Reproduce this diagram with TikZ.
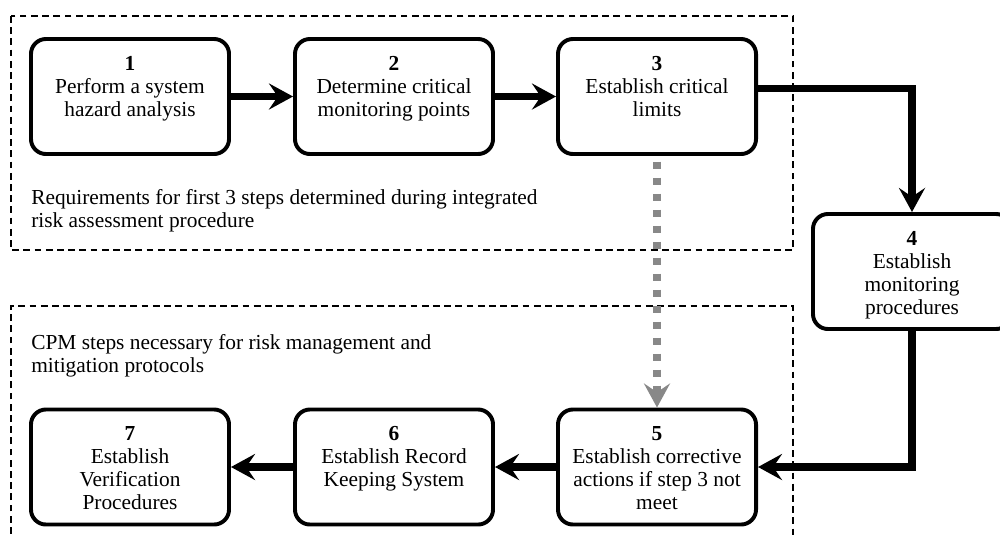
\documentclass[tikz,border=0pt]{standalone}
\usepackage{fontspec}
\setmainfont{Liberation Serif}
\usepackage{xcolor}
\usetikzlibrary{arrows.meta,calc}
\definecolor{dotgray}{RGB}{136,136,136}
\newcommand{\steplabel}[2]{\parbox[c][2.875cm][t]{4.8cm}{\centering\vspace*{4.3mm}\textbf{#1}\\#2}}

\begin{document}
\begin{tikzpicture}[x=0.025cm,y=-0.025cm,
  font=\fontsize{15.2}{16.4}\selectfont,
  stepbox/.style={draw,line width=2.8pt,rounded corners=0.375cm,inner sep=0pt,
                  minimum width=4.95cm,minimum height=2.875cm},
  flow/.style={line width=5.2pt,-{Stealth[length=6mm,width=6.5mm,inset=2.2mm]}},
  groupbox/.style={line width=0.8pt,dash pattern=on 1.7mm off 1.1mm},
  note/.style={anchor=west,align=left,inner sep=0pt}]
\useasboundingbox (0,0) rectangle (1000,535);

% ---------------- group frames ----------------
\draw[groupbox] (11,16) rectangle (793,250);
\draw[groupbox] (11,545) -- (11,306) -- (793,306) -- (793,545);
\node[note] (reqnote) at (31,211)
  {Requirements for first 3 steps determined during integrated\\
   risk assessment procedure};
\node[note] (cpmnote) at (31,356)
  {CPM steps necessary for risk management and\\
   mitigation protocols};

% ---------------- steps ----------------
\foreach \n/\x/\y/\txt in {1/130/96.5/{Perform a system\\hazard analysis},
                          2/394/96.5/{Determine critical\\monitoring points},
                          3/657/96.5/{Establish critical\\limits},
                          4/912/271.5/{Establish\\monitoring\\procedures},
                          5/657/467/{Establish corrective\\actions if step 3 not\\meet},
                          6/394/467/{Establish Record\\Keeping System},
                          7/130/467/{Establish\\Verification\\Procedures}}{
  \node[stepbox] (b\n) at (\x,\y) {\steplabel{\n}{\txt}};
}

% ---------------- connectors ----------------
\draw[flow] (b1) -- (b2);
\draw[flow] (b2) -- (b3);
\draw[flow] ($(b3.east)+(0,-8)$) -| (b4.north);
\draw[flow] (b4.south) |- (b5.east);
\draw[flow] (b5) -- (b6);
\draw[flow] (b6) -- (b7);
% step 3 feeds the corrective actions
\draw[dotgray,line width=0.18cm,dash pattern=on 0.18cm off 0.22cm,shorten <=4pt,
      -{Stealth[length=6mm,width=6.5mm,inset=2.2mm]}] (b3.south) -- (b5.north);

\end{tikzpicture}
\end{document}
